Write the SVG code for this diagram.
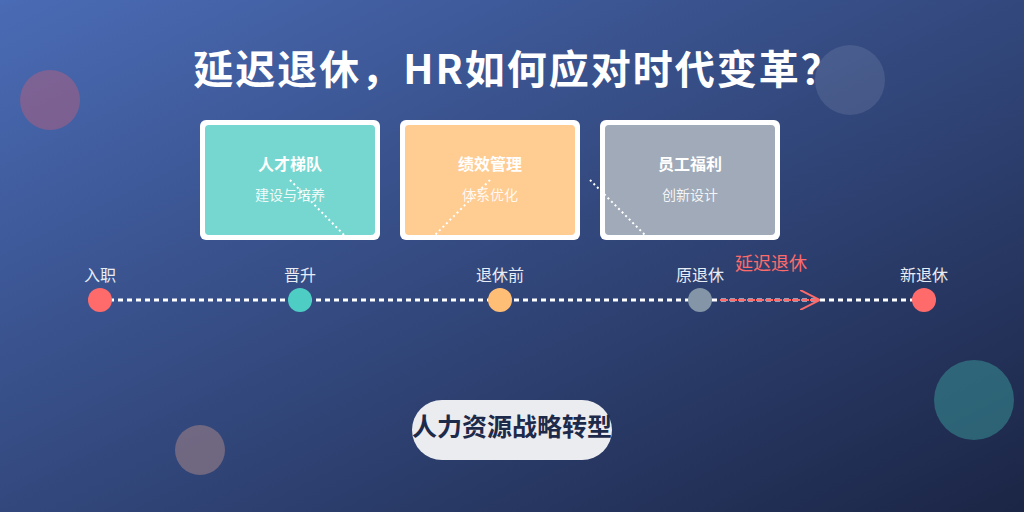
<svg xmlns="http://www.w3.org/2000/svg" width="1024" height="512" viewBox="0 0 1024 512">
<defs>
<linearGradient id="bg" x1="0" y1="0" x2="1" y2="1">
<stop offset="0" stop-color="#4A6BB5"/>
<stop offset="1" stop-color="#1B2545"/>
</linearGradient>
<marker id="chev" viewBox="0 0 20 20" refX="20" refY="10" markerWidth="20" markerHeight="20" markerUnits="userSpaceOnUse" orient="auto">
<polyline points="0,0 20,10 0,20" fill="none" stroke="#FF6B6B" stroke-width="2"/>
</marker>
</defs>
<style>
text{font-family:"Noto Sans CJK SC","Liberation Sans",sans-serif;}
.title{font-size:40px;font-weight:bold;fill:#FFFFFF;letter-spacing:2px;}
.card-outer{fill:#FFFFFF;}
.ct{font-size:16px;font-weight:bold;fill:#FFFFFF;text-anchor:middle;}
.cs{font-size:14px;fill:#FFFFFF;fill-opacity:0.9;text-anchor:middle;}
.lbl{font-size:16px;fill:#E8ECF4;text-anchor:middle;}
.dot{stroke:#FFFFFF;stroke-width:2;stroke-dasharray:2,3;fill:none;}
</style>
<rect width="1024" height="512" fill="url(#bg)"/>
<g id="decor">
<circle cx="50" cy="100" r="30" fill="#C0607A" fill-opacity="0.45"/>
<circle cx="850" cy="80" r="35" fill="#FFFFFF" fill-opacity="0.1"/>
<circle cx="200" cy="450" r="25" fill="#B08A8A" fill-opacity="0.5"/>
<circle cx="974" cy="400" r="40" fill="#3A9A9A" fill-opacity="0.5"/>
</g>
<text id="title" class="title" x="518" y="84" text-anchor="middle">延迟退休，HR如何应对时代变革？</text>
<g id="card1">
<rect x="200" y="120" width="180" height="120" rx="6" class="card-outer"/>
<rect x="205" y="125" width="170" height="110" rx="4" fill="#76D7D0"/>
<text class="ct" x="290" y="170">人才梯队</text>
<text class="cs" x="290" y="200">建设与培养</text>
</g>
<g id="card2">
<rect x="400" y="120" width="180" height="120" rx="6" class="card-outer"/>
<rect x="405" y="125" width="170" height="110" rx="4" fill="#FFCC91"/>
<text class="ct" x="490" y="170">绩效管理</text>
<text class="cs" x="490" y="200">体系优化</text>
</g>
<g id="card3">
<rect x="600" y="120" width="180" height="120" rx="6" class="card-outer"/>
<rect x="605" y="125" width="170" height="110" rx="4" fill="#A0AAB8"/>
<text class="ct" x="690" y="170">员工福利</text>
<text class="cs" x="690" y="200">创新设计</text>
</g>
<g id="connectors">
<line class="dot" x1="290" y1="180" x2="349" y2="240"/>
<line class="dot" x1="490" y1="180" x2="430" y2="240"/>
<line class="dot" x1="590" y1="180" x2="650" y2="240"/>
<line x1="100" y1="300" x2="924" y2="300" stroke="#FFFFFF" stroke-width="3" stroke-dasharray="5,4"/>
<line x1="720" y1="300" x2="820" y2="300" stroke="#FF6B6B" stroke-width="2" stroke-dasharray="8,1" marker-end="url(#chev)"/>
<text x="771" y="270" font-size="18" fill="#FF6B6B" text-anchor="middle">延迟退休</text>
</g>
<g id="m1"><circle cx="100" cy="300" r="12" fill="#FF6B6B"/><text class="lbl" x="100" y="281">入职</text></g>
<g id="m2"><circle cx="300" cy="300" r="12" fill="#4ECDC4"/><text class="lbl" x="300" y="281">晋升</text></g>
<g id="m3"><circle cx="500" cy="300" r="12" fill="#FFBE76"/><text class="lbl" x="500" y="281">退休前</text></g>
<g id="m4"><circle cx="700" cy="300" r="12" fill="#8395A7"/><text class="lbl" x="700" y="281">原退休</text></g>
<g id="m5"><circle cx="924" cy="300" r="12" fill="#FF6B6B"/><text class="lbl" x="924" y="281">新退休</text></g>
<g id="pill">
<rect x="412" y="400" width="200" height="60" rx="30" fill="#EBECF0"/>
<text x="512" y="436" font-size="25" font-weight="bold" fill="#1E2A4A" text-anchor="middle">人力资源战略转型</text>
</g>
</svg>
